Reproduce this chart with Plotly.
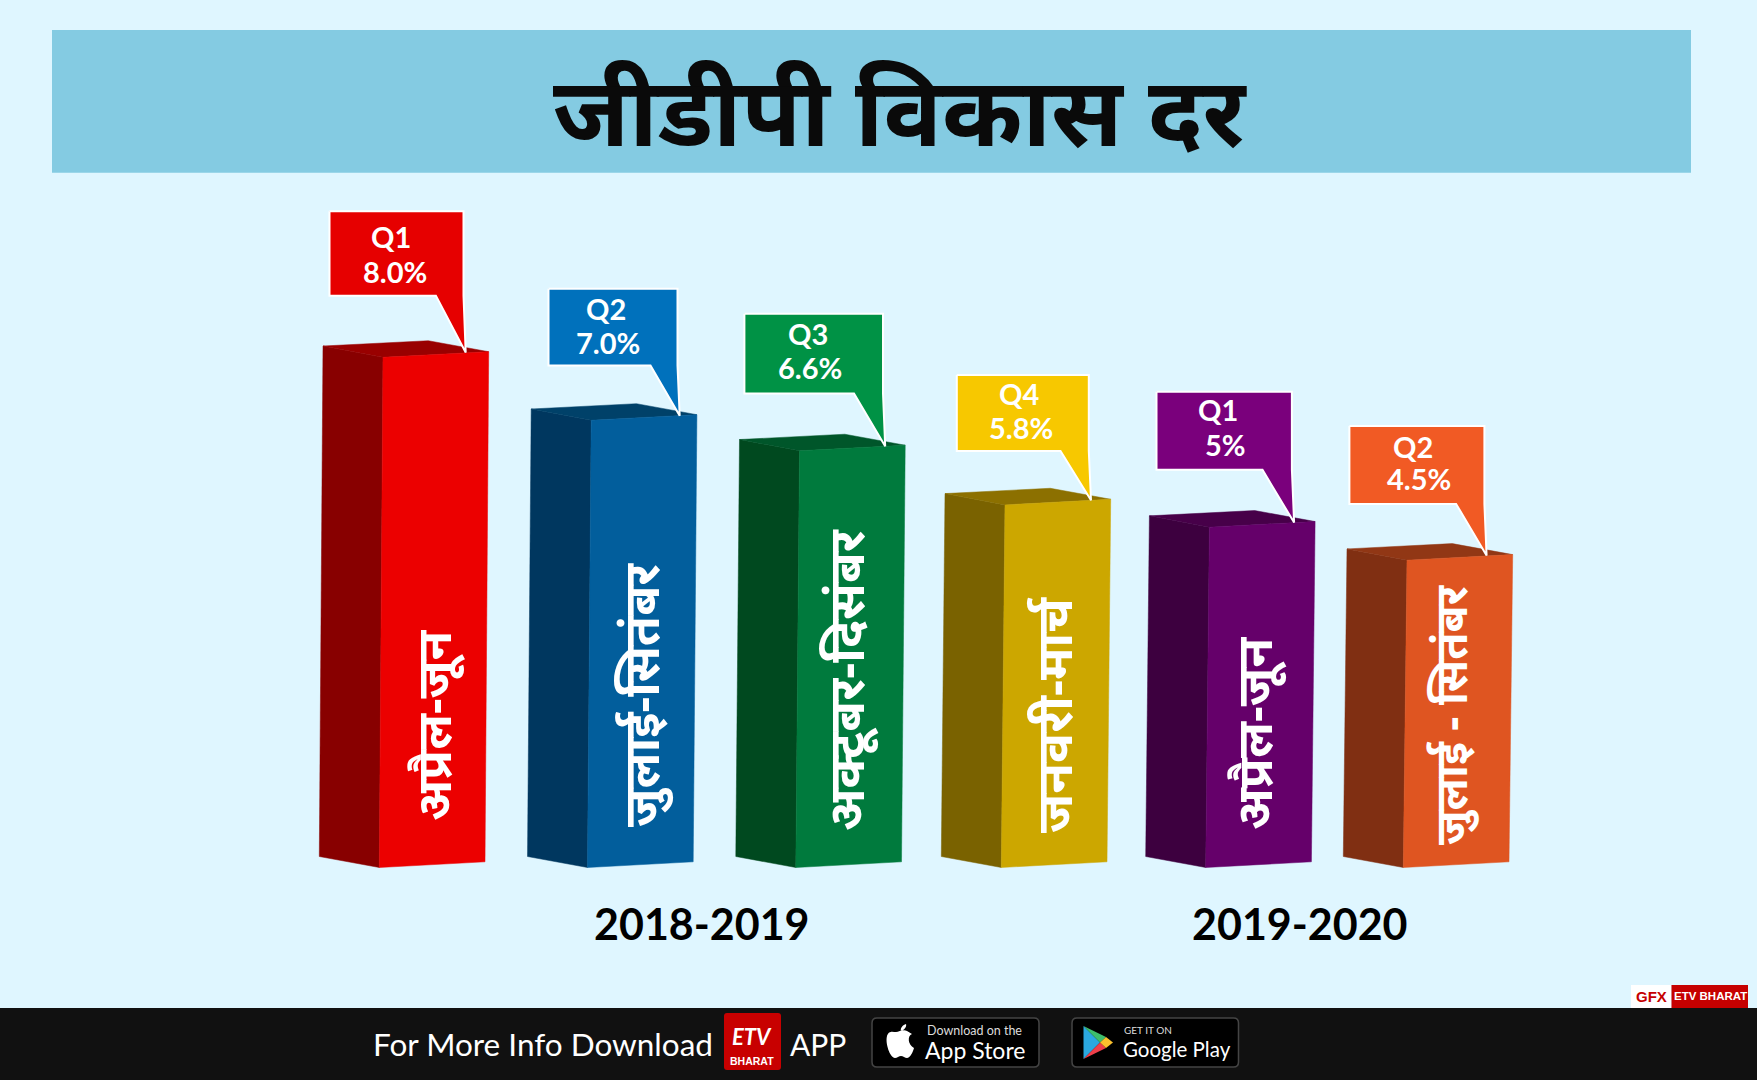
import plotly.graph_objects as go

# ---------- data ----------
period_labels = ["अप्रैल-जून", "जुलाई-सितंबर", "अक्टूबर-दिसंबर", "जनवरी-मार्च", "अप्रैल-जून", "जुलाई - सितंबर"]
quarter_labels = ["Q1", "Q2", "Q3", "Q4", "Q1", "Q2"]
rate_labels = ["8.0%", "7.0%", "6.6%", "5.8%", "5%", "4.5%"]
bar_heights = [8.02, 7.03, 6.55, 5.70, 5.35, 4.83]
year_labels = ["2018-2019", "2019-2020"]
title_text = "जीडीपी विकास दर"

# ---------- layout / style ----------
W, H = 1757, 1080
PX = 63.6          # pixels per unit of height
BASE = 861.8       # pixel row of value 0
bar_right = [485, 693.2, 901.5, 1107, 1311.4, 1509]
front_col = ["#EC0000", "#025E9C", "#007A3D", "#CCA700", "#65006A", "#DF5521"]
side_col = ["#880000", "#00375F", "#00491F", "#7A6200", "#3D003F", "#802F12"]
top_col = ["#990000", "#004169", "#00562A", "#8C7000", "#470049", "#913715"]
call_col = ["#E60000", "#0071BC", "#009245", "#F7C800", "#7A007C", "#F15A24"]
call_w = [134, 129, 138.6, 132, 135.4, 135]
call_h = [84.4, 76.7, 79.7, 76, 78, 78]
call_gap = [56.8, 50.3, 52.7, 49.2, 52.7, 51.7]
call_tail = [27.6, 27, 29, 28.3, 29.4, 28.3]
call_tipdx = [-23, -17.2, -20, -19.7, -21, -26.1]
q_pos = [(-75, -115.2), (-68, -106.3), (-75, -112), (-69.5, -105.3), (-74.7, -112.5), (-77.2, -108.5)]
r_pos = [(-71, -80), (-66, -72.2), (-72.5, -77.3), (-67, -71.3), (-66.7, -77.5), (-71.2, -75.8)]
period_pos = [(432, 725), (640, 695), (845, 680), (1053, 715), (1253, 734), (1450, 715)]
period_size = [48.5, 49, 50, 50, 49, 44]
year_pos = [(701.5, 923), (1300, 923)]
FONT = "Lato"
DEV = "Noto Sans, Noto Sans Devanagari, Lohit Devanagari, sans-serif"


def dv(px):
    return px / PX


fig = go.Figure()


def poly(xs, ys, fill, line=None):
    fig.add_trace(go.Scatter(
        x=xs + xs[:1], y=ys + ys[:1], mode="lines", fill="toself", fillcolor=fill,
        line=dict(color=line or fill, width=2 if line else 0.5),
        hoverinfo="skip", showlegend=False))


for i, v in enumerate(bar_heights):
    x = bar_right[i]
    s = 3.7
    # left face, top face, front face
    poly([x - 165.7, x - 105.7, x - 105.7 + s, x - 165.7 + s],
         [dv(5.3), dv(-5.7), v + dv(-5.6), v + dv(5.7)], side_col[i])
    poly([x - 165.7 + s, x - 105.7 + s, x + s, x - 60.4 + s],
         [v + dv(5.7), v + dv(-5.6), v, v + dv(11)], top_col[i])
    poly([x - 105.7, x, x + s, x - 105.7 + s],
         [dv(-5.7), 0, v, v + dv(-5.6)], front_col[i])

for i, v in enumerate(bar_heights):
    tipx = bar_right[i] + 3.7 + call_tipdx[i]
    tipy = v - dv(1 if i else 0.7)
    r = tipx - 2.2
    l = r - call_w[i]
    b = tipy + dv(call_gap[i])
    t = b + dv(call_h[i])
    poly([l, r, r, tipx, r - call_tail[i], l], [t, t, b + dv(0), tipy, b, b], call_col[i], "#FFFFFF")
    fig.add_annotation(x=bar_right[i] + q_pos[i][0] - 19, y=v + dv(-q_pos[i][1] + 0), text=quarter_labels[i],
                       showarrow=False, font=dict(family=FONT, size=29, color="white", weight=700))
    fig.add_annotation(x=bar_right[i] + r_pos[i][0] - 19, y=v + dv(-r_pos[i][1]), text=rate_labels[i],
                       showarrow=False, font=dict(family=FONT, size=29, color="white", weight=700))
    px, py = period_pos[i]
    fig.add_annotation(x=px, y=(BASE - py) / PX, text=period_labels[i], textangle=-90, showarrow=False,
                       font=dict(family=DEV, size=period_size[i], color="white", weight=700))

for lab, (px, py) in zip(year_labels, year_pos):
    fig.add_annotation(x=px, y=(BASE - py) / PX, text=lab, showarrow=False,
                       font=dict(family=FONT, size=43, color="black", weight=700))


def X(p):
    return p / W


def Y(p):
    return 1 - p / H


def rect(x0, y0, x1, y1, fill, line=None, r=0):
    if r:
        path = (f"M{X(x0+r)},{Y(y0)} L{X(x1-r)},{Y(y0)} Q{X(x1)},{Y(y0)} {X(x1)},{Y(y0+r)} "
                f"L{X(x1)},{Y(y1-r)} Q{X(x1)},{Y(y1)} {X(x1-r)},{Y(y1)} L{X(x0+r)},{Y(y1)} "
                f"Q{X(x0)},{Y(y1)} {X(x0)},{Y(y1-r)} L{X(x0)},{Y(y0+r)} Q{X(x0)},{Y(y0)} {X(x0+r)},{Y(y0)} Z")
        return dict(type="path", xref="paper", yref="paper", path=path, fillcolor=fill,
                    line=dict(color=line or fill, width=1.5 if line else 0), layer="below")
    return dict(type="rect", xref="paper", yref="paper", x0=X(x0), x1=X(x1), y0=Y(y0), y1=Y(y1),
                fillcolor=fill, line=dict(width=0), layer="below")


def tri(pts, fill):
    path = "M" + " L".join(f"{X(a)},{Y(b)}" for a, b in pts) + " Z"
    return dict(type="path", xref="paper", yref="paper", path=path, fillcolor=fill, line=dict(width=0), layer="above")


apple = (f"M{X(907)},{Y(1031)} C{X(903)},{Y(1029)} {X(899)},{Y(1032)} {X(896)},{Y(1032)} "
         f"C{X(893)},{Y(1032)} {X(889)},{Y(1030)} {X(887)},{Y(1036)} "
         f"C{X(885)},{Y(1043)} {X(890)},{Y(1058)} {X(895)},{Y(1058)} "
         f"C{X(897)},{Y(1058)} {X(899)},{Y(1056)} {X(901)},{Y(1056)} "
         f"C{X(903)},{Y(1056)} {X(905)},{Y(1058)} {X(907)},{Y(1058)} "
         f"C{X(910)},{Y(1058)} {X(913)},{Y(1052)} {X(914)},{Y(1048)} "
         f"C{X(908)},{Y(1045)} {X(907)},{Y(1036)} {X(912)},{Y(1034)} Z "
         f"M{X(901)},{Y(1031)} C{X(900)},{Y(1028)} {X(903)},{Y(1025)} {X(906)},{Y(1024)} "
         f"C{X(907)},{Y(1027)} {X(904)},{Y(1030)} {X(901)},{Y(1031)} Z")

shapes = [
    rect(52, 30, 1691, 172.7, "#84CBE2"),
    rect(0, 1008, W, H, "#111111"),
    rect(1631, 985, 1671, 1008, "#FFFFFF"),
    rect(1671.5, 985, 1748, 1008, "#C60000"),
    rect(724, 1013, 781, 1070, "#C80000", r=3),
    rect(872, 1018, 1039, 1067, "#000000", "#444444", r=5),
    rect(1072, 1018, 1238.5, 1067, "#000000", "#444444", r=5),
    dict(type="path", xref="paper", yref="paper", path=apple, fillcolor="white", line=dict(width=0), layer="above"),
    tri([(1083.5, 1026), (1100, 1042.5), (1083.5, 1059)], "#2BA8E0"),
    tri([(1083.5, 1026), (1106, 1037), (1100, 1042.5)], "#3DBE6C"),
    tri([(1083.5, 1059), (1106, 1048), (1100, 1042.5)], "#EE3F4A"),
    tri([(1106, 1037), (1113, 1042.5), (1106, 1048), (1100, 1042.5)], "#FBC02D"),
]


def note(x, y, text, size, color="white", weight=400, family=FONT, anchor="center", **kw):
    fig.add_annotation(xref="paper", yref="paper", x=X(x), y=Y(y), text=text, showarrow=False, xanchor=anchor,
                       yanchor="middle", font=dict(family=family, size=size, color=color, weight=weight), **kw)


note(900, 108, title_text, 97, "#0A0A0A", 700, DEV)
note(542.5, 1044, "For More Info Download", 31.5)
note(818, 1044, "APP", 30)
note(752, 1036, "<i>ETV</i>", 22, "white", 700)
note(752, 1061, "BHARAT", 10.5, "white", 700, "Liberation Sans")
note(925, 1030, "Download on the", 12.5, "#DDDDDD", 400, FONT, "left")
note(923, 1050, "App Store", 23, "white", 400, FONT, "left")
note(1122, 1030, "GET IT ON", 10, "#DDDDDD", 400, FONT, "left")
note(1121, 1049, "Google Play", 20.5, "white", 400, FONT, "left")
note(1651, 996, "GFX", 15, "#C60000", 700, "Liberation Sans")
note(1710, 996, "ETV BHARAT", 11.5, "white", 700, "Liberation Sans")

axis = dict(visible=False, showgrid=False, zeroline=False, fixedrange=True)
fig.update_layout(
    width=W, height=H, margin=dict(l=0, r=0, t=0, b=0), autosize=False,
    paper_bgcolor="#DFF6FF", plot_bgcolor="rgba(0,0,0,0)", showlegend=False, shapes=shapes,
    xaxis=dict(range=[0, W], domain=[0, 1], **axis),
    yaxis=dict(range=[(BASE - H) / PX, BASE / PX], domain=[0, 1], **axis),
)
fig.write_html("out.html", config=dict(displayModeBar=False),
               post_script="document.body.style.margin='0';document.body.style.overflow='hidden';")
